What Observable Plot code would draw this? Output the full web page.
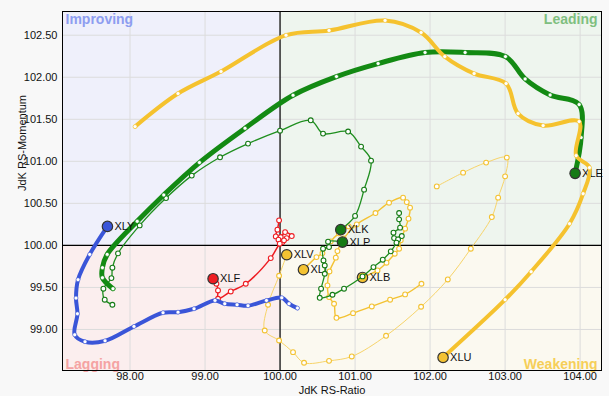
<!DOCTYPE html>
<html><head><meta charset="utf-8">
<script src="https://cdn.jsdelivr.net/npm/d3@7"></script>
<script src="https://cdn.jsdelivr.net/npm/@observablehq/plot@0.6"></script>
<style>
html,body{margin:0;padding:0;background:#f8f8f8;}
#chart{width:609px;height:396px;}
svg{background:transparent !important;}
</style></head><body><div id="chart"></div>
<script>
// Axes
const xTicks = [98, 99, 100, 101, 102, 103, 104];
const yTicks = [99, 99.5, 100, 100.5, 101, 101.5, 102, 102.5];
const xDomain = [97.1, 104.285];
const yDomain = [98.512, 102.782];
const center = 100;
const quadrantNames = ["Improving", "Leading", "Lagging", "Weakening"];
const quadrantFills = ["#eff0fb", "#eef5ee", "#fbeeee", "#fbf9f0"];
const quadrantTextColors = ["#8d9df0", "#7fbf7f", "#f5a3a3", "#f6cf58"];

// Series (tail -> head)
const xlvRatio    = [102.089,102.44,102.747,103.023,103.0,102.907,102.823,102.543,102.236,101.88,101.413,100.956,100.653,100.32,100.173,99.987,99.796,99.84,99.987,100.089];
const xlvMomentum = [100.702,100.865,100.985,101.044,100.821,100.568,100.337,99.961,99.595,99.27,98.925,98.679,98.627,98.604,98.73,98.869,98.988,99.294,99.639,99.889];

const xliRatio    = [100.916,100.783,100.676,100.565,100.485,100.312];
const xliMomentum = [100.226,100.143,100.048,99.908,99.861,99.711];

const xlbRatio    = [101.885,101.667,101.467,101.223,100.973,100.752,100.72,100.653,100.632,100.659,100.743,100.765,100.849,101.023,101.272,101.453,101.64,101.689,101.733,101.712,101.667,101.609,101.587,101.529,101.419,101.299,101.099];
const xlbMomentum = [99.544,99.417,99.354,99.274,99.194,99.139,99.306,99.385,99.524,99.69,99.854,99.932,100.083,100.25,100.385,100.508,100.568,100.515,100.449,100.318,100.199,100.06,99.961,99.901,99.794,99.702,99.619];

const xlfRatio    = [99.987,99.965,99.943,100.009,100.067,100.156,100.089,100.032,99.979,100.053,99.996,99.876,99.543,99.343,99.173,99.173,99.152,99.107];
const xlfMomentum = [100.298,100.187,100.107,100.099,100.158,100.111,100.087,100.039,100.068,100.06,100.02,99.849,99.544,99.452,99.365,99.464,99.544,99.604];

const xlkRatio    = [97.765,97.663,97.645,97.752,97.765,97.84,98.129,98.48,98.823,99.2,99.573,100.0,100.409,100.573,100.907,101.08,101.213,101.12,101.0,100.809];
const xlkMomentum = [99.294,99.354,99.485,99.611,99.735,99.905,100.238,100.563,100.83,101.048,101.211,101.365,101.488,101.33,101.354,101.175,101.008,100.663,100.351,100.187];

const xlpRatio    = [101.587,101.587,101.6,101.512,101.52,101.623,101.573,101.552,101.476,101.369,101.245,101.099,100.853,100.699,100.529,100.547,100.596,100.596,100.579,100.573,100.653,100.64,100.832];
const xlpMomentum = [100.385,100.31,100.211,100.151,100.087,100.111,100.071,100.032,99.929,99.83,99.742,99.631,99.485,99.413,99.377,99.485,99.663,99.762,99.821,99.961,99.98,100.044,100.039];

const xlyRatio    = [100.232,100.12,100.023,99.819,99.573,99.427,99.263,99.133,98.853,98.64,98.44,98.053,97.667,97.4,97.263,97.299,97.28,97.307,97.463,97.699];
const xlyMomentum = [99.254,99.306,99.377,99.345,99.282,99.294,99.306,99.345,99.246,99.206,99.199,99.036,98.865,98.854,98.937,99.187,99.373,99.592,99.893,100.226];

const xleRatio    = [97.773,97.632,97.632,97.696,98.096,98.45,98.925,99.533,100.173,100.752,101.307,101.933,102.467,103.005,103.267,103.6,103.987,104.013,103.933];
const xleMomentum = [99.485,99.615,99.735,99.893,100.286,100.6,100.985,101.393,101.786,102.008,102.163,102.294,102.294,102.246,101.98,101.789,101.675,101.282,100.857];

const xluRatio    = [98.067,98.64,99.213,100.08,100.653,101.4,101.88,102.196,102.587,103.013,103.173,103.507,103.987,103.947,104.125,104.04,103.859,103.347,103.0,102.173];
const xluMomentum = [101.413,101.806,102.068,102.5,102.556,102.675,102.532,102.246,102.044,101.925,101.568,101.425,101.473,101.068,100.925,100.615,100.258,99.687,99.354,98.667];

const seriesNames = ["XLV","XLI","XLB","XLF","XLK","XLP","XLE","XLY","XLU"];
const seriesRatio = [xlvRatio,xliRatio,xlbRatio,xlfRatio,xlkRatio,xlpRatio,xleRatio,xlyRatio,xluRatio];
const seriesMomentum = [xlvMomentum,xliMomentum,xlbMomentum,xlfMomentum,xlkMomentum,xlpMomentum,xleMomentum,xlyMomentum,xluMomentum];
const seriesColors = ["#f7d46a","#f3c232","#f3c232","#ee1d23","#1f8f1f","#1f8f1f","#138a13","#3a55d8","#f5c22e"];
const headColors   = ["#f3c232","#f3c232","#f3c232","#ee1d23","#157a15","#157a15","#157a15","#3a55d8","#f3c232"];
const lineWidths   = [1, 1.4, 1.4, 1.5, 1.3, 1.3, 5, 4, 4];

const quadrants = [
  {x1: xDomain[0], x2: center, y1: center, y2: yDomain[1]},
  {x1: center, x2: xDomain[1], y1: center, y2: yDomain[1]},
  {x1: xDomain[0], x2: center, y1: yDomain[0], y2: center},
  {x1: center, x2: xDomain[1], y1: yDomain[0], y2: center}
].map((q, i) => ({...q, name: quadrantNames[i], fill: quadrantFills[i], color: quadrantTextColors[i]}));

const marks = [
  Plot.rect(quadrants, {x1: "x1", x2: "x2", y1: "y1", y2: "y2", fill: "fill"}),
  Plot.gridX(xTicks, {stroke: "#dcdcdc", strokeOpacity: 1}),
  Plot.gridY(yTicks, {stroke: "#dcdcdc", strokeOpacity: 1}),
  Plot.ruleX([center], {stroke: "black", strokeWidth: 1.2}),
  Plot.ruleY([center], {stroke: "black", strokeWidth: 1.2}),
  Plot.axisX(xTicks, {tickFormat: d => d.toFixed(2), tickSize: 0, tickPadding: 2, fontSize: 11, fill: "#111", label: null}),
  Plot.axisY(yTicks, {tickFormat: d => d.toFixed(2), tickSize: 0, tickPadding: 5, fontSize: 11, fill: "#111", label: null}),
  Plot.text([quadrants[0]], {text: "name", frameAnchor: "top-left", textAnchor: "start", lineAnchor: "top", dx: 3, dy: 3, fill: "color", fontSize: 14, fontWeight: "bold"}),
  Plot.text([quadrants[1]], {text: "name", frameAnchor: "top-right", textAnchor: "end", lineAnchor: "top", dx: -4, dy: 3, fill: "color", fontSize: 14, fontWeight: "bold"}),
  Plot.text([quadrants[2]], {text: "name", frameAnchor: "bottom-left", textAnchor: "start", lineAnchor: "bottom", dx: 3, dy: -2, fill: "color", fontSize: 14, fontWeight: "bold"}),
  Plot.text([quadrants[3]], {text: "name", frameAnchor: "bottom-right", textAnchor: "end", lineAnchor: "bottom", dx: -4, dy: -2, fill: "color", fontSize: 14, fontWeight: "bold"}),
  Plot.text(["JdK RS-Ratio"], {text: d => d, frameAnchor: "bottom", lineAnchor: "bottom", dy: 23, fontSize: 11, fill: "#111"}),
  Plot.text(["JdK RS-Momentum"], {text: d => d, frameAnchor: "left", rotate: -90, dx: -40, fontSize: 11, fill: "#111"})
];

seriesNames.forEach((name, i) => {
  const pts = seriesRatio[i].map((x, j) => ({x, y: seriesMomentum[i][j]}));
  const thick = lineWidths[i] >= 3;
  const head = pts[pts.length - 1];
  marks.push(Plot.line(pts, {x: "x", y: "y", stroke: seriesColors[i], strokeWidth: lineWidths[i], curve: "catmull-rom"}));
  marks.push(Plot.dot(pts.slice(0, -1), {x: "x", y: "y", r: thick ? 2 : 2.4, fill: "white", stroke: thick ? seriesColors[i] : headColors[i], strokeWidth: thick ? 0.6 : 1.1}));
  marks.push(Plot.text([head], {x: "x", y: "y", text: () => name, dx: 7, textAnchor: "start", fontSize: 11, fill: "#111"}));
  marks.push(Plot.dot([head], {x: "x", y: "y", r: 5.2, fill: headColors[i], stroke: "#333", strokeWidth: 1.2}));
});

marks.push(Plot.frame({stroke: "black", strokeWidth: 1}));

const chart = Plot.plot({
  width: 609,
  height: 396,
  marginLeft: 62,
  marginRight: 8,
  marginTop: 11,
  marginBottom: 26,
  x: {domain: xDomain},
  y: {domain: yDomain},
  style: {fontFamily: "'Liberation Sans', Arial, sans-serif", fontSize: "11px", background: "transparent"},
  marks
});
document.getElementById("chart").appendChild(chart);
</script>
</body></html>
